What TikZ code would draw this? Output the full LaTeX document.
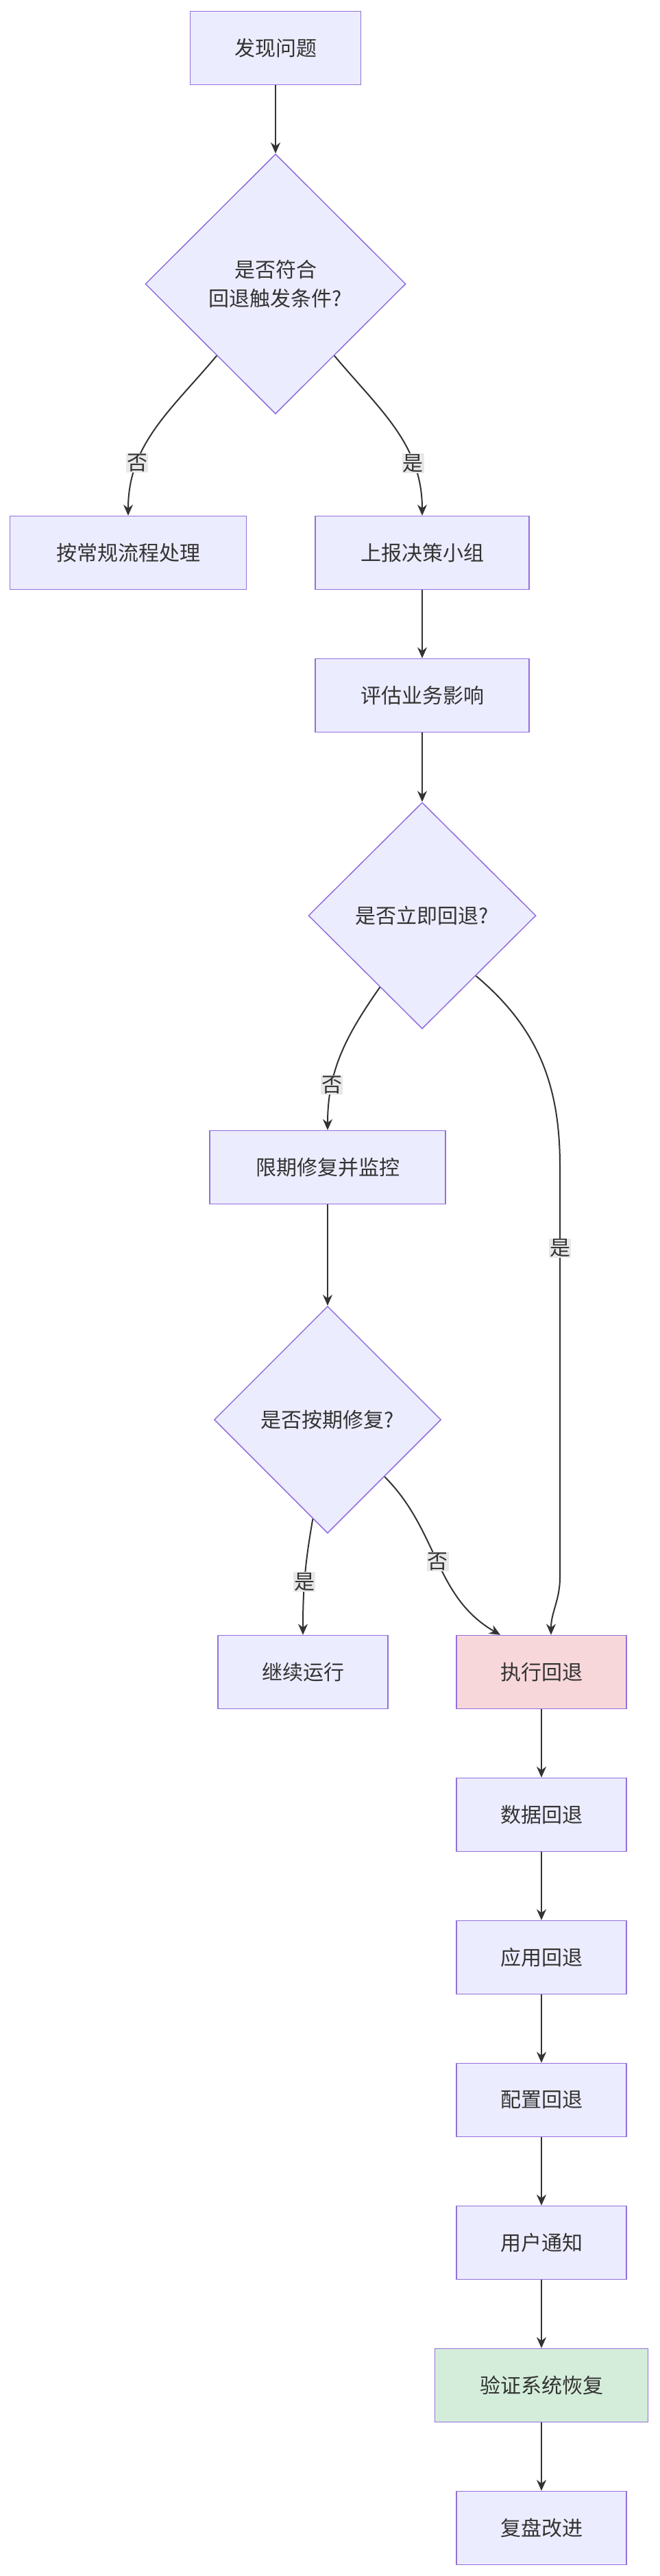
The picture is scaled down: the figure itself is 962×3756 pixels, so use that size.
\documentclass[tikz,border=0pt]{standalone}
\usepackage{fontspec}
\setmainfont{Noto Sans CJK SC}
\usetikzlibrary{calc, positioning, arrows.meta, shapes.geometric}
\definecolor{nodefill}{HTML}{ECECFF}
\definecolor{nodeline}{HTML}{9370DB}
\definecolor{textcol}{HTML}{333333}
\definecolor{pinkfill}{HTML}{F8D7DA}
\definecolor{greenfill}{HTML}{D4EDDA}
\definecolor{lblfill}{HTML}{E8E8E8}
\tikzset{
  box/.style={draw=nodeline, fill=nodefill, line width=1.5pt, minimum height=107pt, text=textcol, font=\fontsize{30}{36}\selectfont, inner sep=0pt},
  decide/.style={diamond, draw=nodeline, fill=nodefill, line width=1.5pt, inner sep=0pt, text=textcol, align=center, font=\fontsize{30}{42}\selectfont},
  flow/.style={draw=textcol, line width=2pt, -{Stealth[length=16pt,width=14pt]}},
  lbl/.style={fill=lblfill, text=textcol, font=\fontsize{30}{36}\selectfont, inner sep=1pt}
}
\begin{document}
\begin{tikzpicture}[x=1pt,y=-1pt]
\useasboundingbox (0,0) rectangle (962,3756);
% nodes
\node[box, minimum width=249pt] (find) at (402,70) {发现问题};
\node[decide, minimum width=380pt, minimum height=379pt] (cond) at (402,414) {是否符合\\回退触发条件?};
\node[box, minimum width=345pt] (normal) at (187,806) {按常规流程处理};
\node[box, minimum width=312pt] (report) at (616,806) {上报决策小组};
\node[box, minimum width=312pt] (assess) at (616,1014) {评估业务影响};
\node[decide, minimum width=332pt, minimum height=330pt] (now) at (616,1335) {是否立即回退?};
\node[box, minimum width=344pt] (fix) at (478,1702) {限期修复并监控};
\node[decide, minimum width=331pt, minimum height=331pt] (ontime) at (478,2070) {是否按期修复?};
\node[box, minimum width=248pt] (keep) at (442,2438) {继续运行};
\node[box, minimum width=248pt, fill=pinkfill] (exec) at (790,2438) {执行回退};
\node[box, minimum width=248pt] (data) at (790,2646) {数据回退};
\node[box, minimum width=248pt] (app) at (790,2854) {应用回退};
\node[box, minimum width=248pt] (conf) at (790,3062) {配置回退};
\node[box, minimum width=248pt] (notify) at (790,3270) {用户通知};
\node[box, minimum width=311pt, fill=greenfill] (verify) at (790,3478) {验证系统恢复};
\node[box, minimum width=248pt] (review) at (790,3686) {复盘改进};

% connectors
\draw[flow] (find) -- (cond);
\draw[flow] ($(cond.south)!0.45!(cond.west)$) to[out=-130,in=90] node[lbl, pos=0.72] {否} (normal.north);
\draw[flow] ($(cond.south)!0.45!(cond.east)$) to[out=-50,in=90] node[lbl, pos=0.72] {是} (report.north);
\draw[flow] (report) -- (assess);
\draw[flow] (assess) -- (now);
\draw[flow] ($(now.south)!0.37!(now.west)$) to[out=-125,in=90] node[lbl, pos=0.72] {否} (fix.north);
\coordinate (bend) at (817,1700);
\draw[flow] ($(now.south)!0.47!(now.east)$) to[out=-40,in=90] (bend) -- node[lbl, pos=0.2] {是} ($(bend)+(0,600)$) to[out=-90,in=90] ($(exec.north)+(14,0)$);
\draw[flow] (fix) -- (ontime);
\draw[flow] ($(ontime.south)!0.13!(ontime.west)$) to[out=-100,in=90] node[lbl, pos=0.55] {是} (keep.north);
\draw[flow] (ontime.south east) to[out=-45,in=150] node[lbl, pos=0.5] {否} ($(exec.north)+(-60,0)$);
\draw[flow] (exec) -- (data);
\draw[flow] (data) -- (app);
\draw[flow] (app) -- (conf);
\draw[flow] (conf) -- (notify);
\draw[flow] (notify) -- (verify);
\draw[flow] (verify) -- (review);
\end{tikzpicture}
\end{document}
